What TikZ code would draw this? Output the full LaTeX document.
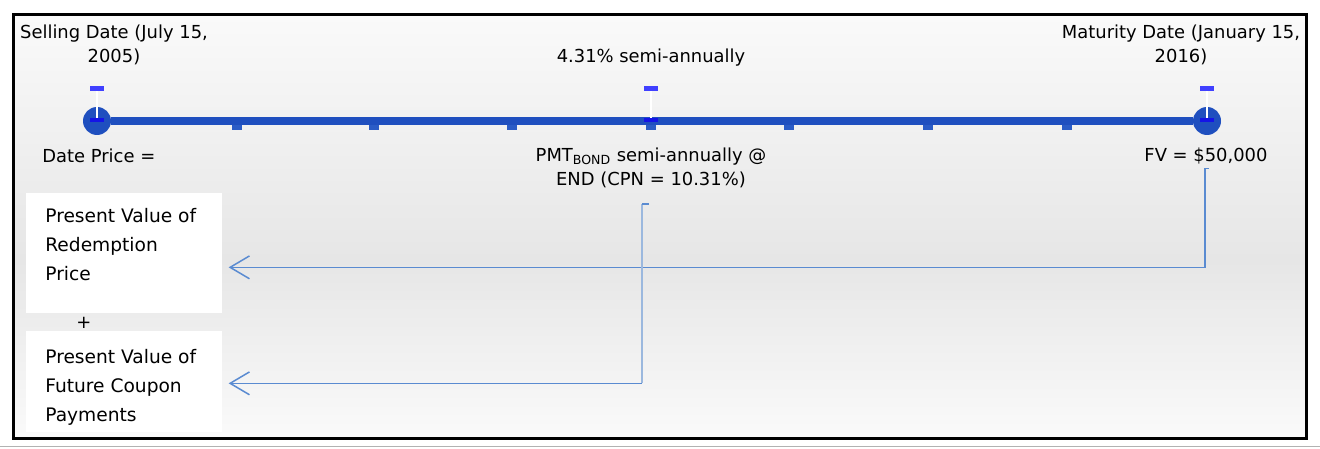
\documentclass[tikz,border=0pt]{standalone}
\usepackage{fontspec}
\setmainfont{DejaVu Sans}
\usetikzlibrary{arrows.meta,positioning,calc}
\definecolor{lineblue}{HTML}{1F4FBF}
\definecolor{tabblue}{HTML}{2B5CC6}
\definecolor{dashblue}{HTML}{4040FF}
\definecolor{darkdash}{HTML}{1414E6}
\definecolor{linkblue}{HTML}{5A8BD1}
\definecolor{paleblue}{HTML}{9BB8DE}
\definecolor{bgtop}{HTML}{FAFAFA}
\definecolor{bgmid}{HTML}{E6E6E6}

\begin{document}
\begin{tikzpicture}[x=0.02cm, y=-0.02cm, >={Straight Barb[length=11pt,width=13pt]},
  every node/.style={font=\fontsize{10.2pt}{13.6pt}\selectfont, inner sep=0pt},
  tline/.style={lineblue, line width=5.1pt},
  endpt/.style={circle, fill=lineblue, minimum size=0.56cm},
  lbl/.style={align=center},
  pvbox/.style={fill=white, minimum width=3.92cm, anchor=north west},
  pvtext/.style={align=left, anchor=north west, font=\fontsize{10.6pt}{16.4pt}\selectfont},
  link/.style={linkblue, line width=0.85pt},
  palelink/.style={paleblue, line width=1.7pt}]
  \useasboundingbox (0,0) rectangle (1320,449);

  % ---- Background panel ----
  \shade[top color=bgtop, bottom color=bgmid] (15,15) rectangle (1307,260);
  \shade[top color=bgmid, bottom color=bgtop] (15,260) rectangle (1307,437);
  \draw[black, line width=1.7pt] (13.5,14.5) rectangle (1306.5,438.5);
  \draw[gray!60, line width=0.6pt] (0,446.5) -- (1320,446.5);

  % ---- Time line ----
  \node[endpt] (sell) at (97,121) {};
  \node[endpt] (mat) at (1207,121) {};
  \draw[tline] (sell) -- (mat);
  \foreach \x in {237,374,512,651,789,928,1067} {
    \fill[tabblue] (\x-5,125) rectangle (\x+5,130);
  }
  % Handles above the periods
  \foreach \x in {97,651,1207} {
    \draw[white, line width=0.8pt] (\x,90) -- (\x,119);
    \fill[dashblue] (\x-7,86) rectangle (\x+7,91);
    \fill[darkdash] (\x-7,118) rectangle (\x+7,122);
  }

  % ---- Labels ----
  \node[lbl] (sellLbl) at (114,45) {Selling Date (July 15,\\2005)};
  \node[lbl] (rateLbl) at (651,58) {4.31\% semi-annually};
  \node[lbl] (matLbl) at (1181,45) {Maturity Date (January 15,\\2016)};
  \node[anchor=west] (priceLbl) at (42,156) {Date Price =};
  \node[lbl] (pmtLbl) at (651,168) {PMT\textsubscript{BOND} semi-annually @\\END (CPN = 10.31\%)};
  \node (fvLbl) at (1206,156) {FV = \$50,000};

  % ---- Present value boxes ----
  \node[pvbox, minimum height=2.4cm] (pvr) at (26,193) {};
  \node[pvtext] (pvrText) at ($(pvr.north west)+(19,15)$) {Present Value of\\Redemption\\Price};
  \node (plus) at (84,323) {+};
  \node[pvbox, minimum height=2.02cm] (pvf) at (26,331) {};
  \node[pvtext] (pvfText) at ($(pvf.north west)+(19,18)$) {Present Value of\\Future Coupon\\Payments};

  % ---- Discounting connectors ----
  \coordinate (fvOut) at ($(fvLbl.south)+(-1,4)$);
  \coordinate (pvrIn) at ($(pvr.east)+(6,14)$);
  \draw[link,->] ($(fvOut)+(4,0)$) -- (fvOut) |- (pvrIn);

  \coordinate (cpnOut) at (642,204);
  \coordinate (pvfIn) at ($(pvf.east)+(6,1.5)$);
  \draw[palelink] (cpnOut) -- (cpnOut |- pvfIn);
  \draw[link] ($(cpnOut)+(7,0)$) -- (cpnOut);
  \draw[link,->] (cpnOut |- pvfIn) -- (pvfIn);
\end{tikzpicture}
\end{document}
